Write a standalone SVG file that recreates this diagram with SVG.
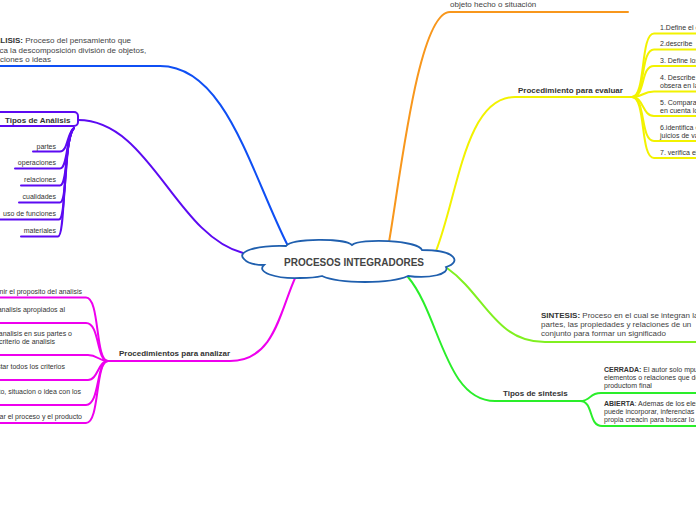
<svg xmlns="http://www.w3.org/2000/svg" width="696" height="520" viewBox="0 0 696 520">
<style>
.t{font-family:"Liberation Sans",Arial,sans-serif;font-size:7px;fill:#333}
.m{font-family:"Liberation Sans",Arial,sans-serif;font-size:8px;fill:#444}
.b{font-family:"Liberation Sans",Arial,sans-serif;font-size:8px;font-weight:bold;fill:#444}
.bb{font-weight:bold;fill:#333}
.c{fill:none;stroke-width:2;stroke-linecap:round;stroke-linejoin:round}
.blue{stroke:#0f4ff4}
.purple{stroke:#5c0af2}
.mag{stroke:#ee00ee}
.orange{stroke:#f8971c}
.yellow{stroke:#f2f200}
.lime{stroke:#80f020}
.green{stroke:#2aee2a}
</style>
<rect width="696" height="520" fill="#fff"/>
<g id="connectors">
  <path class="c blue" d="M 287 244 C 250 170, 225 66, 160 66 L -2 66"/>
  <path class="c purple" d="M 78 120 C 150 120, 175 235, 243 253"/>
  <path class="c purple" d="M 33 151.5 L 60 151.5 C 68 151.5, 67 132, 74 128"/>
  <path class="c purple" d="M 15 168.5 L 60 168.5 C 68 168.5, 66 134, 74 128"/>
  <path class="c purple" d="M 21 185.5 L 60 185.5 C 68 185.5, 65 136, 74 128"/>
  <path class="c purple" d="M 19 202.5 L 60 202.5 C 68 202.5, 64 138, 74 128"/>
  <path class="c purple" d="M -2 219.5 L 59 219.5 C 67 219.5, 63 140, 74 128"/>
  <path class="c purple" d="M 21 236.5 L 58 236.5 C 66 236.5, 62 142, 74 128"/>
  <path class="c mag" d="M 296 276 C 280 310, 275 361, 230 361 L 108 361"/>
  <path class="c mag" d="M -2 297.5 L 86 297.5 C 100 297.5, 95 361, 108 361"/>
  <path class="c mag" d="M -2 323 L 86 323 C 100 323, 96 361, 108 361"/>
  <path class="c mag" d="M -2 355 L 88 355 C 98 355, 98 361, 108 361"/>
  <path class="c mag" d="M -2 380 L 88 380 C 98 380, 98 361, 108 361"/>
  <path class="c mag" d="M -2 405 L 86 405 C 100 405, 96 361, 108 361"/>
  <path class="c mag" d="M -2 423 L 86 423 C 100 423, 95 361, 108 361"/>
  <path class="c orange" d="M 389 242 C 400 180, 418 12, 450 12 L 628 12"/>
  <path class="c yellow" d="M 436 251 C 458 195, 465 97, 515 97 L 632 97"/>
  <path class="c yellow" d="M 632 97 C 646 97, 640 33.5, 654 33.5 L 698 33.5"/>
  <path class="c yellow" d="M 632 97 C 646 97, 640 49.5, 654 49.5 L 698 49.5"/>
  <path class="c yellow" d="M 632 97 C 646 97, 640 66, 654 66 L 698 66"/>
  <path class="c yellow" d="M 632 97 C 644 97, 642 91.5, 654 91.5 L 698 91.5"/>
  <path class="c yellow" d="M 632 97 C 644 97, 642 116, 654 116 L 698 116"/>
  <path class="c yellow" d="M 632 97 C 646 97, 640 141, 654 141 L 698 141"/>
  <path class="c yellow" d="M 632 97 C 646 97, 640 158, 654 158 L 698 158"/>
  <path class="c lime" d="M 447 268 C 485 295, 495 342, 545 342 L 698 342"/>
  <path class="c green" d="M 408 277 C 440 315, 445 401, 495 401 L 580 401"/>
  <path class="c green" d="M 580 401 C 592 401, 588 393, 601 393 L 698 393"/>
  <path class="c green" d="M 580 401 C 594 401, 588 426, 602 426 L 698 426"/>
</g>
<g id="central">
  <path d="M 286 246 C 255 245, 236 252, 244 259 C 248 264, 258 265, 264 265 C 256 272, 275 279, 300 278 C 310 278, 318 277, 322 276 C 340 284, 390 284, 408 276 C 430 279, 450 274, 446 267 C 462 262, 456 250, 422 250 C 418 240, 360 238, 352 245 C 345 238, 292 238, 286 246 Z" fill="#fff" stroke="#1f5fae" stroke-width="1.8"/>
  <text x="354" y="266" text-anchor="middle" style="font-family:'Liberation Sans',Arial,sans-serif;font-size:10px;font-weight:bold;fill:#444">PROCESOS INTEGRADORES</text>
</g>
<g id="analisis">
  <text class="m" x="-17" y="43"><tspan class="bb">ANÁLISIS:</tspan> Proceso del pensamiento que</text>
  <text class="m" x="-17" y="52.5">implica la descomposición división de objetos,</text>
  <text class="m" x="-17" y="62">situaciones o ideas</text>
</g>
<g id="tipos-analisis">
  <rect x="-8" y="112" width="86" height="14" rx="4" fill="#fff" stroke="#5c0af2" stroke-width="2"/>
  <text class="b" x="5" y="122.5" style="fill:#333">Tipos de Análisis</text>
</g>
<g id="tipos-analisis-items" class="t" text-anchor="end">
  <text x="56" y="148.5">partes</text>
  <text x="56" y="165">operaciones</text>
  <text x="56" y="182">relaciones</text>
  <text x="56" y="199">cualidades</text>
  <text x="56" y="216">uso de funciones</text>
  <text x="56" y="233">materiales</text>
</g>
<g id="proc-analizar">
  <text class="b" x="119" y="356" style="fill:#333">Procedimientos para analizar</text>
</g>
<g id="proc-analizar-items" class="t" text-anchor="end">
  <text x="82" y="294">Definir el proposito del analisis</text>
  <text x="65" y="311.5">criterios de analisis apropiados al</text>
  <text x="72" y="336">Descomponer el objeto de analisis en sus partes o</text>
  <text x="55" y="344">elementos segun el criterio de analisis</text>
  <text x="65" y="369">Contrastar todos los criterios</text>
  <text x="81" y="394">Comparar el objeto, situacion o idea con los</text>
  <text x="82" y="419">Evaluar el proceso y el producto</text>
</g>
<g id="objeto">
  <text class="m" x="450" y="6.5">objeto hecho o situación</text>
</g>
<g id="proc-evaluar">
  <text class="b" x="518" y="92.5" style="fill:#333">Procedimiento para evaluar</text>
</g>
<g id="proc-evaluar-items" class="t">
  <text x="660" y="29.5">1.Define el objeto</text>
  <text x="660" y="46">2.describe</text>
  <text x="660" y="62.5">3. Define los criterios</text>
  <text x="660" y="79.5">4. Describe lo que</text>
  <text x="660" y="88">obsera en la</text>
  <text x="660" y="105">5. Compara teniendo</text>
  <text x="660" y="113">en cuenta los</text>
  <text x="660" y="130">6.identifica el</text>
  <text x="660" y="138">juicios de valor</text>
  <text x="660" y="154.5">7. verifica el</text>
</g>
<g id="sintesis">
  <text class="m" x="541" y="318"><tspan class="bb">SINTESIS:</tspan> Proceso en el cual se integran las</text>
  <text class="m" x="541" y="327">partes, las propiedades y relaciones de un</text>
  <text class="m" x="541" y="336">conjunto para formar un significado</text>
</g>
<g id="tipos-sintesis">
  <text class="b" x="503" y="396" style="fill:#333">Tipos de sintesis</text>
</g>
<g id="cerrada" class="t">
  <text x="604" y="371.5"><tspan class="bb">CERRADA:</tspan> El autor solo mpuso los</text>
  <text x="604" y="379.5">elementos o relaciones que determinan</text>
  <text x="604" y="387.5">productom final</text>
</g>
<g id="abierta" class="t">
  <text x="604" y="405.5"><tspan class="bb">ABIERTA</tspan>: Ademas de los elementos</text>
  <text x="604" y="413.5">puede incorporar, inferencias</text>
  <text x="604" y="421.5">propia creacin para buscar lo</text>
</g>
</svg>
